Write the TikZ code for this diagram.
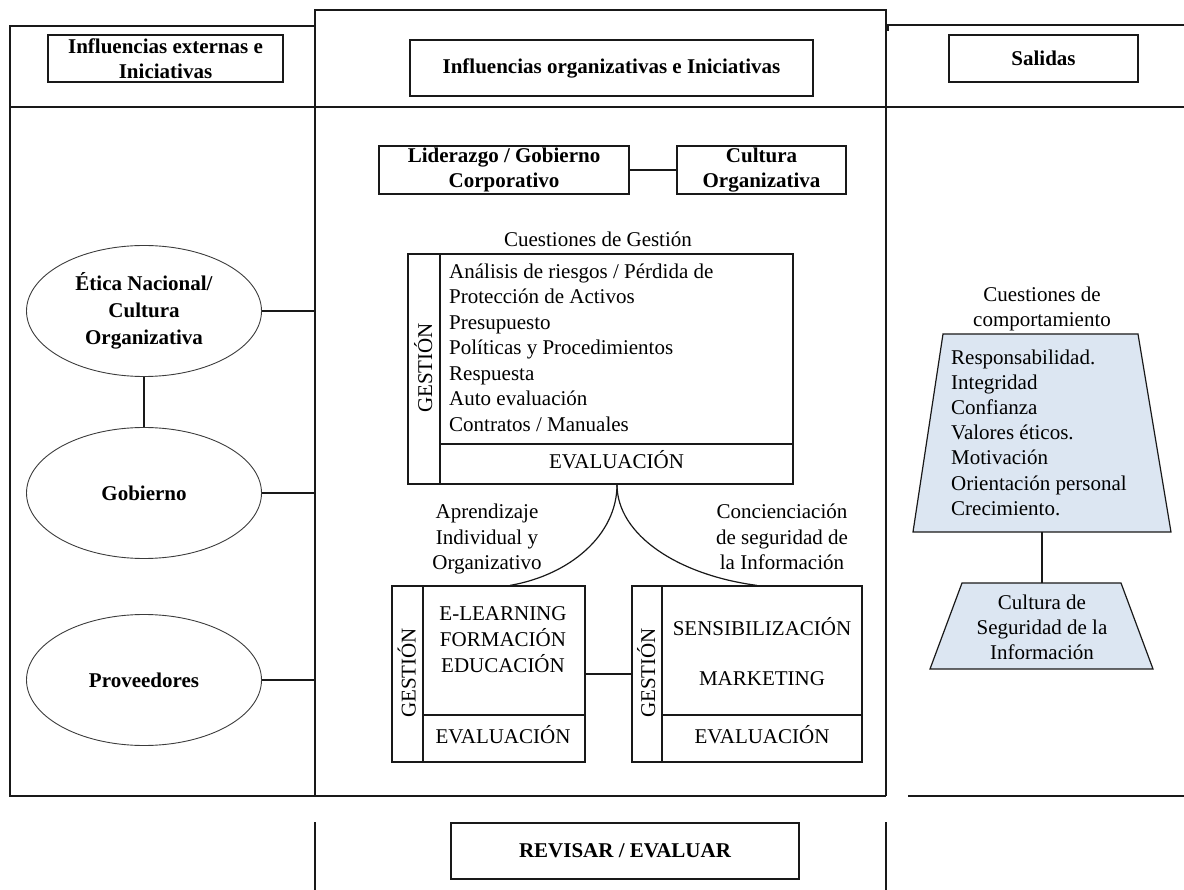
\documentclass[tikz,border=0pt]{standalone}
\usepackage{fontspec}
\setmainfont{Liberation Serif}
\usetikzlibrary{shapes.geometric}
\definecolor{trapfill}{RGB}{220,230,242}
\definecolor{ink}{RGB}{25,25,25}
\tikzset{
  frame/.style={line width=1.2pt, draw=ink},
  conn/.style={line width=1.2pt, draw=ink},
  tbox/.style={draw=ink, line width=1.2pt, inner sep=0pt, align=center, font=\fontsize{21}{25}\selectfont\bfseries},
  plainbox/.style={draw=ink, line width=1.2pt, inner sep=0pt},
  txt/.style={inner sep=0pt, anchor=base, font=\fontsize{21}{25}\selectfont},
  txtl/.style={txt, anchor=base west},
  vtxt/.style={txt, rotate=90},
  ell/.style={draw=ink!85, ellipse, line width=0.9pt, minimum width=235pt, minimum height=131pt, inner sep=0pt, align=center, font=\fontsize{21}{27}\selectfont\bfseries},
  trap/.style={line width=1.2pt, draw=ink, fill=trapfill}
}
\begin{document}
\begin{tikzpicture}[x=1pt,y=-1pt]
\useasboundingbox (0,0) rectangle (1184,890);
% column frames
\draw[frame] (315,26) -- (10,26) -- (10,796) -- (886,796);
\draw[frame] (315,796) -- (315,10) -- (886,10) -- (886,796);
\draw[frame] (888,31) -- (888,25) -- (1184,25);
\draw[frame] (10,107) -- (1184,107);
\draw[frame] (908,796) -- (1184,796);
\draw[frame] (315,822) -- (315,890);
\draw[frame] (886,822) -- (886,890);
% headers
\node[tbox, minimum width=235pt, minimum height=47pt] (hExt) at (165.5,58.5) {Influencias externas e\\Iniciativas};
\node[tbox, minimum width=403pt, minimum height=56pt] (hOrg) at (611.5,68) {Influencias organizativas e Iniciativas};
\node[tbox, minimum width=189pt, minimum height=47pt] (hSal) at (1043.5,58.5) {Salidas};
\node[tbox, minimum width=348pt, minimum height=56pt] (rev) at (625,851) {REVISAR / EVALUAR};
% left ellipses
\node[ell] (etica) at (144,311) {Ética Nacional/\\Cultura\\Organizativa};
\node[ell] (gob) at (144,493) {Gobierno};
\node[ell] (prov) at (144,680) {Proveedores};
\coordinate (c1) at (315,311);
\coordinate (c2) at (315,493);
\coordinate (c3) at (315,680);
\draw[conn] (etica) -- (gob);
\draw[conn] (etica.east) -- (c1);
\draw[conn] (gob.east) -- (c2);
\draw[conn] (prov.east) -- (c3);
% middle top
\node[tbox, minimum width=250pt, minimum height=48pt] (lid) at (504,170) {Liderazgo / Gobierno\\Corporativo};
\node[tbox, minimum width=169pt, minimum height=48pt] (cult) at (761.5,170) {Cultura\\Organizativa};
\draw[conn] (lid) -- (cult);
% management issues box
\node[txt] (cgest) at (598,247) {Cuestiones de Gestión};
\node[plainbox, minimum width=385pt, minimum height=230pt] (gbox) at (600.5,369) {};
\draw[conn] (440,254) -- (440,484);
\draw[conn] (440,444) -- (793,444);
\foreach \t [count=\i from 0] in {{Análisis de riesgos / Pérdida de},{Protección de Activos},{Presupuesto},{Políticas y Procedimientos},{Respuesta},{Auto evaluación},{Contratos / Manuales}}
  \node[txtl] (gl\i) at (449,278.5+25.5*\i) {\t};
\node[vtxt] (gv1) at (432,368) {GESTIÓN};
\node[txt] (gev) at (616.5,469) {EVALUACIÓN};
% bottom boxes
\node[plainbox, minimum width=193pt, minimum height=176pt] (lbox) at (488.5,674) {};
\node[plainbox, minimum width=230pt, minimum height=176pt] (rbox) at (747,674) {};
\draw[conn] (423,586) -- (423,762);
\draw[conn] (423,715) -- (585,715);
\draw[conn] (662,586) -- (662,762);
\draw[conn] (662,715) -- (862,715);
\draw[conn] (lbox) -- (rbox);
\draw[conn] ([xshift=16.5pt]gbox.south) .. controls (617,535) and (570,575) .. ([xshift=21.5pt]lbox.north);
\draw[conn] ([xshift=16.5pt]gbox.south) .. controls (617,535) and (678,575) .. ([xshift=10pt]rbox.north);
\foreach \t [count=\i from 0] in {{Aprendizaje},{Individual y},{Organizativo}}
  \node[txt] (ap\i) at (487,518.5+25.5*\i) {\t};
\foreach \t [count=\i from 0] in {{Concienciación},{de seguridad de},{la Información}}
  \node[txt] (co\i) at (782,518.5+25.5*\i) {\t};
\foreach \t [count=\i from 0] in {{E-LEARNING},{FORMACIÓN},{EDUCACIÓN}}
  \node[txt] (el\i) at (503,620+26*\i) {\t};
\node[txt] (sens) at (762,635) {SENSIBILIZACIÓN};
\node[txt] (mkt) at (762,685) {MARKETING};
\node[txt] (lev) at (503,743) {EVALUACIÓN};
\node[txt] (rev2) at (762,743) {EVALUACIÓN};
\node[vtxt] (gv2) at (415.5,673) {GESTIÓN};
\node[vtxt] (gv3) at (655,673) {GESTIÓN};
% right side
\foreach \t [count=\i from 0] in {{Cuestiones de},{comportamiento}}
  \node[txt] (cc\i) at (1042,302+25*\i) {\t};
\draw[trap] (943,334) -- (1138,334) -- (1171,532) -- (913,532) -- cycle;
\foreach \t [count=\i from 0] in {{Responsabilidad.},{Integridad},{Confianza},{Valores éticos.},{Motivación},{Orientación personal},{Crecimiento.}}
  \node[txtl] (cv\i) at (951,365+25*\i) {\t};
\draw[trap] (962,583) -- (1121,583) -- (1153,669) -- (930,669) -- cycle;
\coordinate (upB) at (1042,532);
\coordinate (loT) at (1042,583);
\draw[conn] (upB) -- (loT);
\foreach \t [count=\i from 0] in {{Cultura de},{Seguridad de la},{Información}}
  \node[txt] (cs\i) at (1042,609+25*\i) {\t};
\end{tikzpicture}
\end{document}
